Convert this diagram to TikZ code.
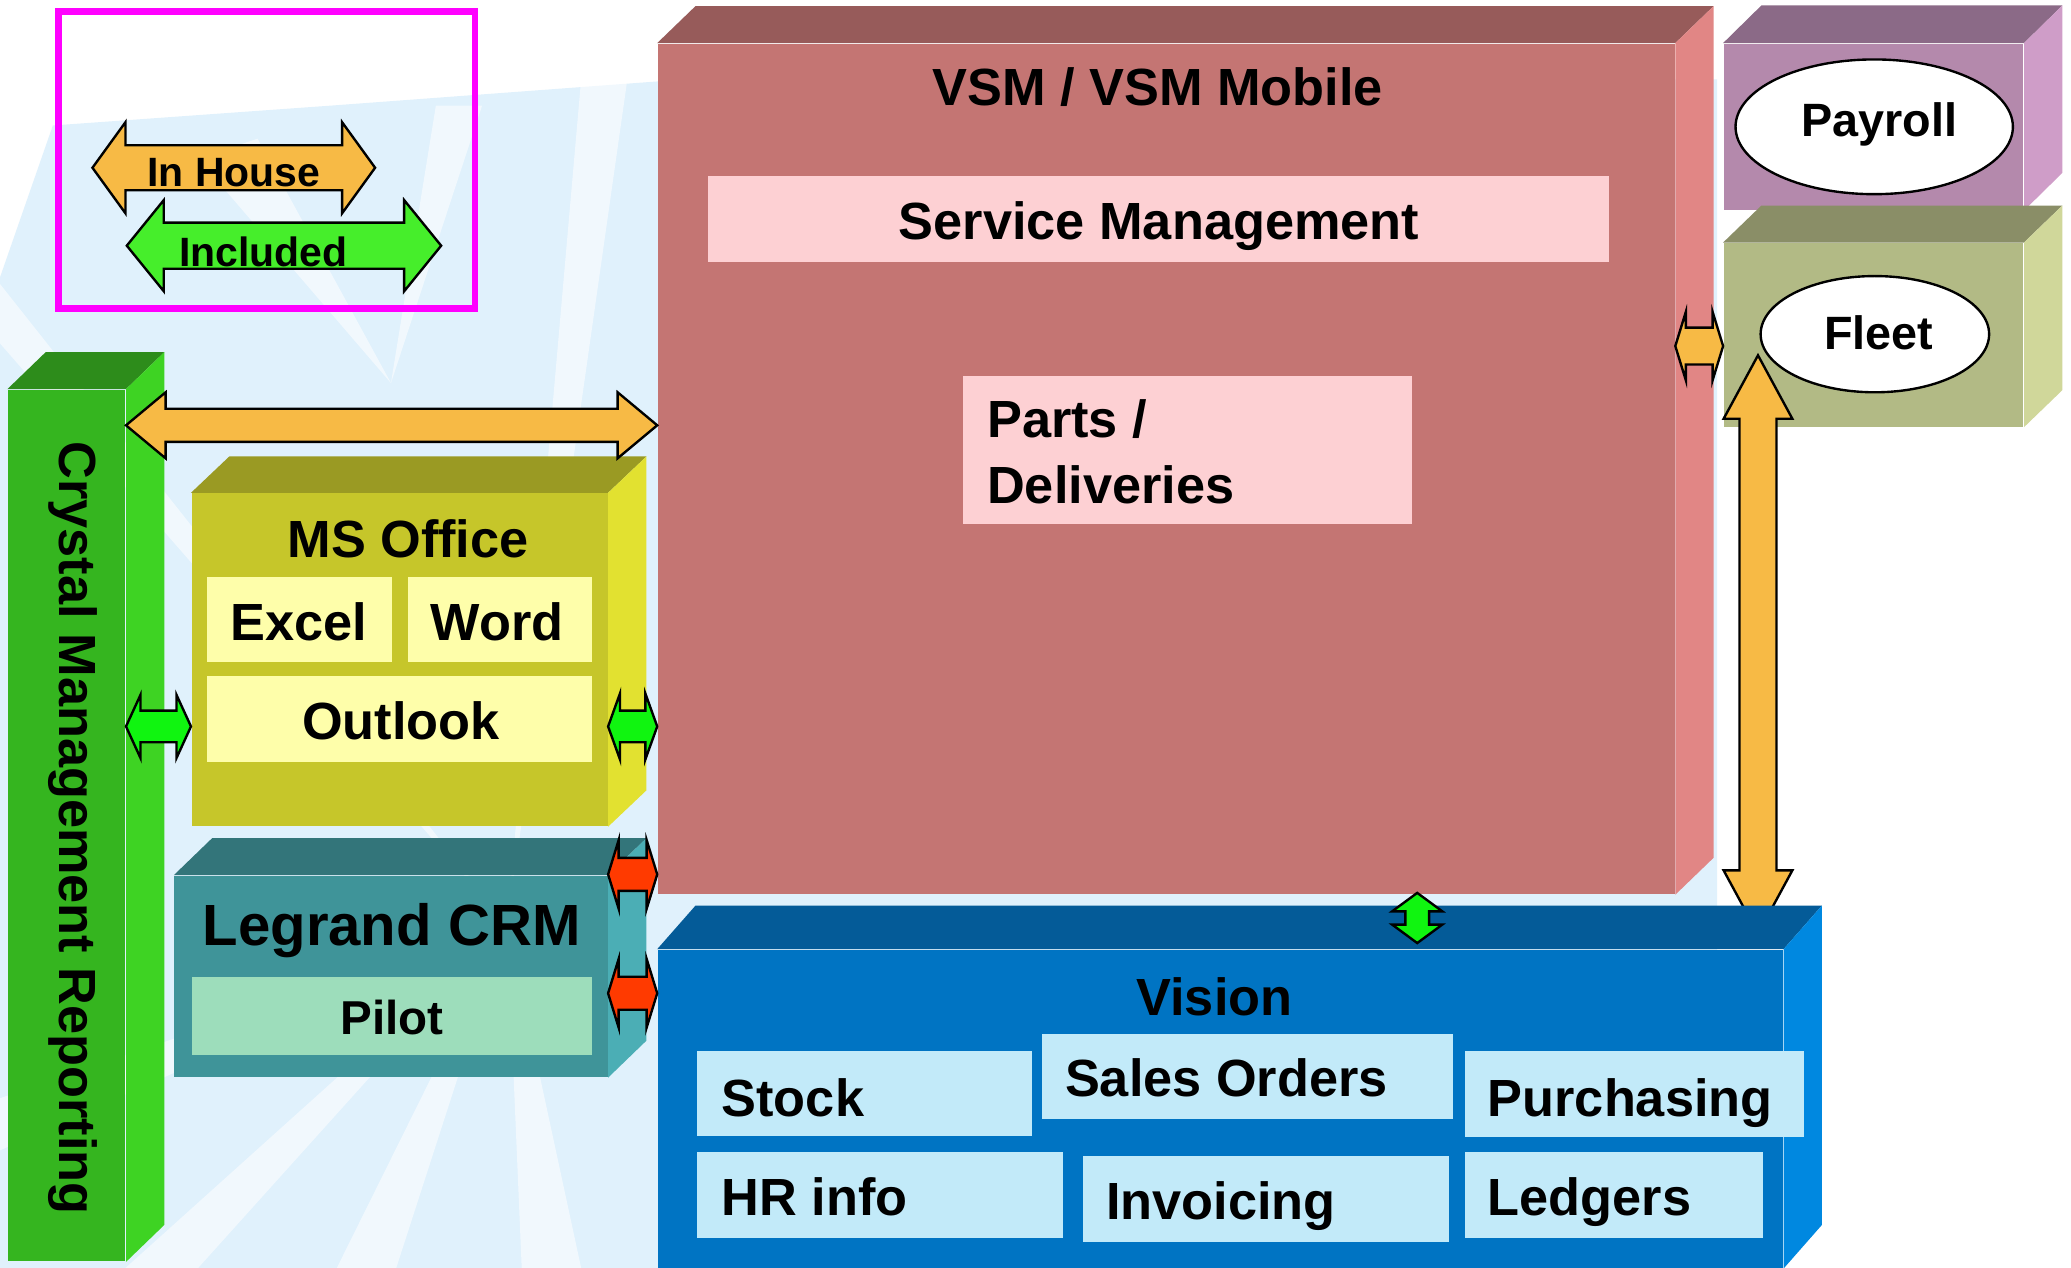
\documentclass[tikz,border=0pt]{standalone}
\usepackage{fontspec}
\newfontfamily\af{Liberation Sans}
\usetikzlibrary{calc,fit,shapes.geometric}

\definecolor{bgblue}{HTML}{E0F1FC}
\definecolor{legmag}{HTML}{FF00FF}
\definecolor{orng}{HTML}{F7BA45}
\definecolor{leggreen}{HTML}{46EE2B}
\definecolor{brgreen}{HTML}{10F510}
\definecolor{redarr}{HTML}{FF3A00}
\definecolor{crysF}{HTML}{35B51F}
\definecolor{crysT}{HTML}{2D8C1B}
\definecolor{crysS}{HTML}{3ED323}
\definecolor{vsmF}{HTML}{C47573}
\definecolor{vsmT}{HTML}{975B5A}
\definecolor{vsmS}{HTML}{E18685}
\definecolor{pinkbox}{HTML}{FDD0D3}
\definecolor{msoF}{HTML}{C6C62A}
\definecolor{msoT}{HTML}{9A9A23}
\definecolor{msoS}{HTML}{E2E130}
\definecolor{ylwbox}{HTML}{FEFEAA}
\definecolor{crmF}{HTML}{3F9499}
\definecolor{crmT}{HTML}{33757A}
\definecolor{crmS}{HTML}{4BAEB5}
\definecolor{pilotbox}{HTML}{9DDDBB}
\definecolor{visF}{HTML}{0074C3}
\definecolor{visT}{HTML}{045B98}
\definecolor{visS}{HTML}{0088E0}
\definecolor{visbox}{HTML}{C2EAF9}
\definecolor{payF}{HTML}{B489AC}
\definecolor{payT}{HTML}{8B6A87}
\definecolor{payS}{HTML}{CF9DC8}
\definecolor{fltF}{HTML}{B2BA85}
\definecolor{fltT}{HTML}{8A8E67}
\definecolor{fltS}{HTML}{D0D79A}

% #1 name, #2 x1, #3 y1, #4 x2, #5 y2, #6 front, #7 top, #8 side, #9 depth
\newcommand{\mycube}[9]{%
  \node[fit={(#2,#3) (#4,#5)}, inner sep=0pt, fill=#6] (#1) {};
  \fill[#7] (#1.north west) -- ++(29,-#9) -- ($(#1.north east)+(29,-#9)$) -- (#1.north east) -- cycle;
  \fill[#8] (#1.north east) -- ++(29,-#9) -- ($(#1.south east)+(29,-#9)$) -- (#1.south east) -- cycle;}

% horizontal double arrow: #1 style, #2 left tip, #3 right tip, #4 head length, #5 head half, #6 shaft half
\newcommand{\hfat}[6]{%
  \draw[#1] (#2) -- ($(#2)+(#4,-#5)$) -- ($(#2)+(#4,-#6)$) -- ($(#3)+(-#4,-#6)$) -- ($(#3)+(-#4,-#5)$) -- (#3)
    -- ($(#3)+(-#4,#5)$) -- ($(#3)+(-#4,#6)$) -- ($(#2)+(#4,#6)$) -- ($(#2)+(#4,#5)$) -- cycle;}
% vertical double arrow: #2 top tip, #3 bottom tip
\newcommand{\vfat}[6]{%
  \draw[#1] (#2) -- ($(#2)+(-#5,#4)$) -- ($(#2)+(-#6,#4)$) -- ($(#3)+(-#6,-#4)$) -- ($(#3)+(-#5,-#4)$) -- (#3)
    -- ($(#3)+(#5,-#4)$) -- ($(#3)+(#6,-#4)$) -- ($(#2)+(#6,#4)$) -- ($(#2)+(#5,#4)$) -- cycle;}

\begin{document}
\begin{tikzpicture}[x=0.5pt,y=-0.5pt,
  lbl/.style={font=\af\bfseries\fontsize{19.8pt}{24pt}\selectfont, inner sep=0pt, anchor=base},
  lblw/.style={lbl, anchor=base west},
  arr/.style={draw=black, line width=0.9pt, line join=miter},
  subbox/.style={inner sep=0pt},
  ray/.style={white, opacity=0.55}]
\useasboundingbox (0,0) rectangle (1568,960);

% ---------- background ----------
\fill[white] (0,0) rectangle (1568,960);
\begin{scope}
\clip (0,0) rectangle (1568,960);
\fill[bgblue] (0,210) -- (40,95) -- (250,80) -- (520,60) -- (1300,60) -- (1300,960) -- (0,960) -- cycle;
\fill[ray] (384,700) -- (95,960) -- (150,960) -- cycle;
\fill[ray] (384,700) -- (255,960) -- (300,960) -- cycle;
\fill[ray] (384,700) -- (395,960) -- (440,960) -- cycle;
\fill[ray] (384,700) -- (-200,900) -- (-200,960) -- cycle;
\fill[ray] (384,700) -- (440,60) -- (475,60) -- cycle;
\fill[ray] (384,700) -- (0,215) -- (0,260) -- cycle;
\fill[ray] (296,290) -- (150,120) -- (195,105) -- cycle;
\fill[ray] (296,290) -- (330,80) -- (365,80) -- cycle;
\end{scope}

% ---------- legend ----------
\node[fit={(44.5,8.5) (359.5,233.5)}, inner sep=0pt, draw=legmag, line width=2.5pt] (legend) {};
\coordinate (ih1) at (70,127);
\coordinate (ih2) at (284,127);
\hfat{arr, fill=orng}{ih1}{ih2}{25}{34.5}{17}
\node[lbl, font=\af\bfseries\fontsize{15.5pt}{18pt}\selectfont] (tinhouse) at (177,141) {In House};
\coordinate (ic1) at (96,186);
\coordinate (ic2) at (334,186);
\hfat{arr, fill=leggreen}{ic1}{ic2}{28}{34.5}{17.5}
\node[lbl, font=\af\bfseries\fontsize{15.5pt}{18pt}\selectfont] (tincluded) at (199.5,202) {Included};

% ---------- Crystal ----------
\mycube{crystal}{6}{295}{95}{955}{crysF}{crysT}{crysS}{28}
\node[lbl, rotate=-90, anchor=base west] (tcrystal) at (45,334) {Crystal Management Reporting};

% ---------- VSM ----------
\mycube{vsm}{498}{33}{1268}{677}{vsmF}{vsmT}{vsmS}{28}
\node[lbl] (tvsm) at (876.5,80) {VSM / VSM Mobile};
\node[subbox, fit={(536,133) (1218,198)}, fill=pinkbox] (svc) {};
\node[lbl] (tsvc) at (877.5,181) {Service Management};
\node[subbox, fit={(729,285) (1069,397)}, fill=pinkbox] (parts) {};
\node[lblw] (tparts) at (747,331) {Parts /};
\node[lblw] (tdeliv) at (747,381) {Deliveries};

% ---------- MS Office ----------
\mycube{mso}{145}{373.5}{460}{625.5}{msoF}{msoT}{msoS}{27.5}
\node[lbl] (tmso) at (309,422) {MS Office};
\node[subbox, fit={(157,437) (296.5,501)}, fill=ylwbox] (excel) {};
\node[lbl] (texcel) at (226.5,485) {Excel};
\node[subbox, fit={(309,437) (448,501)}, fill=ylwbox] (word) {};
\node[lbl] (tword) at (376.5,485) {Word};
\node[subbox, fit={(157,512) (448,577)}, fill=ylwbox] (outlook) {};
\node[lbl] (toutlook) at (303.5,560) {Outlook};

% ---------- Legrand CRM ----------
\mycube{crm}{132}{663}{460}{815.5}{crmF}{crmT}{crmS}{28}
\node[lbl, font=\af\bfseries\fontsize{22pt}{26pt}\selectfont] (tcrm) at (296.5,716) {Legrand CRM};
\node[subbox, fit={(145,740) (448,799)}, fill=pilotbox] (pilot) {};
\node[lbl, font=\af\bfseries\fontsize{18pt}{22pt}\selectfont] (tpilot) at (297,783) {Pilot};

% ---------- Payroll / Fleet ----------
\mycube{pay}{1305}{33}{1532}{159}{payF}{payT}{payS}{28.5}
\node[ellipse, draw=black, line width=0.9pt, fill=white, inner sep=0pt,
      minimum width=105pt, minimum height=51pt] (payell) at (1419,96) {};
\node[lbl, font=\af\bfseries\fontsize{17.7pt}{21pt}\selectfont] (tpay) at (1423,103) {Payroll};
\mycube{fleet}{1305}{184}{1532}{323}{fltF}{fltT}{fltS}{28}
\node[ellipse, draw=black, line width=0.9pt, fill=white, inner sep=0pt,
      minimum width=86.5pt, minimum height=44pt] (fltell) at (1419.5,253) {};
\node[lbl, font=\af\bfseries\fontsize{17.7pt}{21pt}\selectfont] (tfleet) at (1422.5,264.5) {Fleet};

% orange vertical arrow Fleet <-> Vision (behind Vision)
\coordinate (fvt) at (1331,269);
\coordinate (fvb) at (1331,707);
\vfat{arr, fill=orng}{fvt}{fvb}{48}{26}{14}

% ---------- Vision ----------
\mycube{vision}{498}{719}{1350}{960}{visF}{visT}{visS}{33}
\node[lbl] (tvision) at (919.5,769) {Vision};
\node[subbox, fit={(528,796) (781,860)}, fill=visbox] (stock) {};
\node[lblw] (tstock) at (546,845) {Stock};
\node[subbox, fit={(789,783) (1100,847)}, fill=visbox] (sales) {};
\node[lblw] (tsales) at (806,830) {Sales Orders};
\node[subbox, fit={(1109,796) (1366,861)}, fill=visbox] (purch) {};
\node[lblw] (tpurch) at (1126,845) {Purchasing};
\node[subbox, fit={(528,872) (805,937)}, fill=visbox] (hr) {};
\node[lblw] (thr) at (546,920) {HR info};
\node[subbox, fit={(820,875) (1097,940)}, fill=visbox] (inv) {};
\node[lblw] (tinv) at (837,923) {Invoicing};
\node[subbox, fit={(1109,872) (1335,937)}, fill=visbox] (ledg) {};
\node[lblw] (tledg) at (1126,920) {Ledgers};

% ---------- connectors ----------
\coordinate (o1a) at (crystal.east |- 0,322);
\coordinate (o1b) at (vsm.west |- 0,322);
\hfat{arr, fill=orng}{o1a}{o1b}{30}{25}{12.5}

\coordinate (g1a) at (crystal.east |- 0,550);
\coordinate (g1b) at (mso.west |- 0,550);
\hfat{arr, fill=brgreen}{g1a}{g1b}{11}{24}{12}

\coordinate (g2a) at (mso.east |- 0,550);
\coordinate (g2b) at (vsm.west |- 0,550);
\hfat{arr, fill=brgreen}{g2a}{g2b}{9}{25}{12}

\coordinate (r1a) at (crm.east |- 0,662);
\coordinate (r1b) at (vsm.west |- 0,662);
\hfat{arr, fill=redarr}{r1a}{r1b}{8}{26}{12.5}

\coordinate (r2a) at (crm.east |- 0,752);
\coordinate (r2b) at (vision.west |- 0,752);
\hfat{arr, fill=redarr}{r2a}{r2b}{8}{26}{12.5}

\coordinate (osa) at (vsm.east |- 0,262);
\coordinate (osb) at (fleet.west |- 0,262);
\hfat{arr, fill=orng}{osa}{osb}{8}{26}{14}

\coordinate (gvt) at (1073,676);
\coordinate (gvb) at (1073,714);
\vfat{arr, fill=brgreen}{gvt}{gvb}{14}{19}{9}
\end{tikzpicture}
\end{document}
